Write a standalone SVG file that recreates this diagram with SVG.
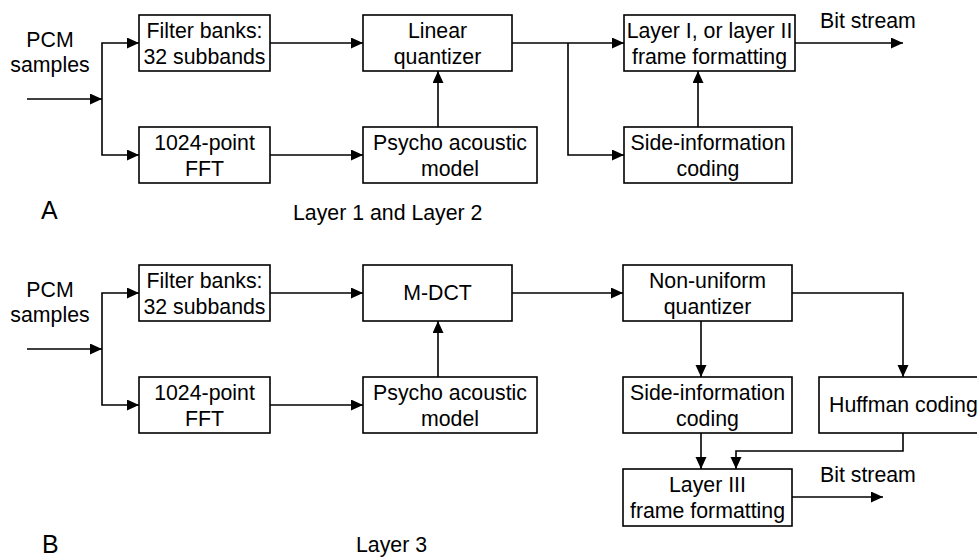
<svg xmlns="http://www.w3.org/2000/svg" width="977" height="557" viewBox="0 0 977 557">
<style>
.box{fill:#fff;stroke:#000;stroke-width:1.6}
.t{font-family:"Liberation Sans",Arial,sans-serif;font-size:21.3px;fill:#000;text-anchor:middle}
.s{text-anchor:start}
.lab{font-size:25px}
.c{fill:none;stroke:#000;stroke-width:1.6}
</style>
<defs>
<marker id="ah" markerUnits="userSpaceOnUse" markerWidth="13" markerHeight="12" refX="12" refY="5.5" orient="auto">
<path d="M0,0 L12,5.5 L0,11 z" fill="#000"/>
</marker>
</defs>
<rect width="977" height="557" fill="#fff"/>
<g id="connectors" class="c" marker-end="url(#ah)">
<path d="M27,99 H102"/>
<path d="M102,99 V43 H139"/>
<path d="M102,99 V155 H139"/>
<path d="M270,43 H363"/>
<path d="M270,155 H363"/>
<path d="M438,127 V71"/>
<path d="M512,43 H624"/>
<path d="M568,43 V155 H624"/>
<path d="M698,127 V71"/>
<path d="M795,43 H903"/>
<path d="M27,349 H102"/>
<path d="M102,349 V293 H139"/>
<path d="M102,349 V405 H139"/>
<path d="M270,293 H363"/>
<path d="M270,405 H363"/>
<path d="M438,377 V321"/>
<path d="M512,293 H623"/>
<path d="M792,293 H903 V377"/>
<path d="M701,321 V377"/>
<path d="M701,433 V469"/>
<path d="M903,433 V451 H736 V469"/>
<path d="M792,497 H883"/>
</g>
<g id="labels">
<text class="t" x="50" y="47">PCM</text>
<text class="t" x="50" y="72">samples</text>
<text class="t s" x="820" y="28">Bit stream</text>
<text class="t lab s" x="41" y="219">A</text>
<text class="t s" x="293" y="220">Layer 1 and Layer 2</text>
<text class="t" x="50" y="297">PCM</text>
<text class="t" x="50" y="322">samples</text>
<text class="t s" x="820" y="482">Bit stream</text>
<text class="t lab s" x="42" y="553">B</text>
<text class="t s" x="356" y="552">Layer 3</text>
</g>
<g id="a_filter"><rect class="box" x="139" y="15" width="131" height="56"/><text class="t" x="204.5" y="38">Filter banks:</text><text class="t" x="204.5" y="64">32 subbands</text></g>
<g id="a_fft"><rect class="box" x="139" y="127" width="131" height="56"/><text class="t" x="204.5" y="150">1024-point</text><text class="t" x="204.5" y="176">FFT</text></g>
<g id="a_quant"><rect class="box" x="363" y="15" width="149" height="56"/><text class="t" x="437.5" y="38">Linear</text><text class="t" x="437.5" y="64">quantizer</text></g>
<g id="a_psycho"><rect class="box" x="363" y="127" width="174" height="56"/><text class="t" x="450" y="150">Psycho acoustic</text><text class="t" x="450" y="176">model</text></g>
<g id="a_frame"><rect class="box" x="624" y="15" width="171" height="56"/><text class="t" x="709.5" y="38">Layer I, or layer II</text><text class="t" x="709.5" y="64">frame formatting</text></g>
<g id="a_side"><rect class="box" x="624" y="127" width="168" height="56"/><text class="t" x="708" y="150">Side-information</text><text class="t" x="708" y="176">coding</text></g>
<g id="b_filter"><rect class="box" x="139" y="265" width="131" height="56"/><text class="t" x="204.5" y="288">Filter banks:</text><text class="t" x="204.5" y="314">32 subbands</text></g>
<g id="b_fft"><rect class="box" x="139" y="377" width="131" height="56"/><text class="t" x="204.5" y="400">1024-point</text><text class="t" x="204.5" y="426">FFT</text></g>
<g id="b_mdct"><rect class="box" x="363" y="265" width="149" height="56"/><text class="t" x="437.5" y="300">M-DCT</text></g>
<g id="b_psycho"><rect class="box" x="363" y="377" width="174" height="56"/><text class="t" x="450" y="400">Psycho acoustic</text><text class="t" x="450" y="426">model</text></g>
<g id="b_quant"><rect class="box" x="623" y="265" width="169" height="56"/><text class="t" x="707.5" y="288">Non-uniform</text><text class="t" x="707.5" y="314">quantizer</text></g>
<g id="b_side"><rect class="box" x="623" y="377" width="169" height="56"/><text class="t" x="707.5" y="400">Side-information</text><text class="t" x="707.5" y="426">coding</text></g>
<g id="b_huff"><rect class="box" x="819" y="377" width="166" height="56"/><text class="t s" x="829" y="412">Huffman coding</text></g>
<g id="b_frame"><rect class="box" x="623" y="469" width="169" height="57"/><text class="t" x="707.5" y="492">Layer III</text><text class="t" x="707.5" y="518">frame formatting</text></g>
</svg>
